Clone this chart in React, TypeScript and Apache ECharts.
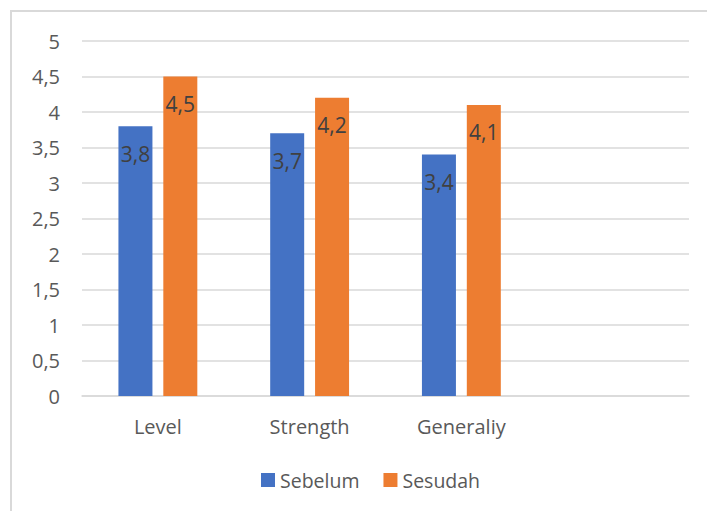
import React, { useEffect, useRef } from "react";
import * as echarts from "echarts";

const categories = ["Level", "Strength", "Generaliy", ""];
const sebelum = [3.8, 3.7, 3.4, null];
const sesudah = [4.5, 4.2, 4.1, null];
const seriesNames = ["Sebelum", "Sesudah"];

const FONT = "'Open Sans', sans-serif";
const fmt = (v: number) => String(v).replace(".", ",");

export default function App() {
  const ref = useRef<HTMLDivElement>(null);
  useEffect(() => {
    document.body.style.margin = "0";
    const chart = echarts.init(ref.current!, null, { renderer: "svg" });
    const label = {
      show: true,
      position: "insideTop",
      distance: 17,
      color: "#404040",
      fontSize: 21,
      fontFamily: FONT,
      formatter: (p: any) => fmt(p.value),
    };
    chart.setOption({
      animation: false,
      backgroundColor: "#ffffff",
      textStyle: { fontFamily: FONT },
      grid: { left: 82, right: 18, top: 41, bottom: 115 },
      legend: {
        data: seriesNames,
        left: 256,
        top: 465,
        icon: "rect",
        itemWidth: 14,
        itemHeight: 14,
        itemGap: 24,
        textStyle: { color: "#595959", fontSize: 19.5, fontFamily: FONT },
      },
      xAxis: {
        type: "category",
        data: categories,
        axisLine: { lineStyle: { color: "#d9d9d9", width: 1.5 } },
        axisTick: { show: false },
        axisLabel: { color: "#595959", fontSize: 20, fontFamily: FONT, margin: 20 },
      },
      yAxis: {
        type: "value",
        min: 0,
        max: 5,
        interval: 0.5,
        axisLine: { show: false },
        axisTick: { show: false },
        splitLine: { lineStyle: { color: "#d9d9d9", width: 1.5 } },
        axisLabel: {
          color: "#595959",
          fontSize: 20,
          fontFamily: FONT,
          margin: 22,
          formatter: (v: number) => fmt(v),
        },
      },
      series: [
        {
          name: seriesNames[0],
          type: "bar",
          data: sebelum,
          barWidth: 34,
          barGap: "32%",
          itemStyle: { color: "#4472C4" },
          label,
        },
        {
          name: seriesNames[1],
          type: "bar",
          data: sesudah,
          barWidth: 34,
          barGap: "32%",
          itemStyle: { color: "#ED7D31" },
          label,
        },
      ],
      graphic: [
        {
          type: "line",
          shape: { x1: 11, y1: 11, x2: 11, y2: 511 },
          style: { stroke: "#d9d9d9", lineWidth: 2 },
        },
        {
          type: "line",
          shape: { x1: 10, y1: 11, x2: 707, y2: 11 },
          style: { stroke: "#d9d9d9", lineWidth: 2 },
        },
      ],
    });
    return () => chart.dispose();
  }, []);
  return (
    <div
      ref={ref}
      style={{ position: "absolute", left: 0, top: 0, width: 707, height: 511 }}
    />
  );
}
